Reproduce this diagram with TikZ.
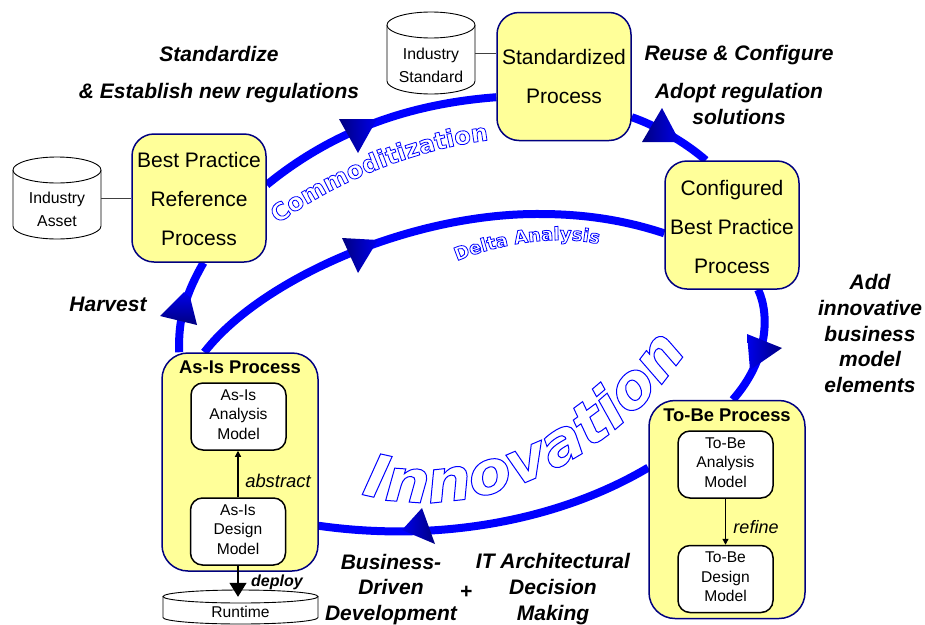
\documentclass[tikz,border=0pt]{standalone}
\usepackage{fontspec}
\setmainfont{Liberation Sans}
\newfontfamily\innofont[FakeStretch=1.05]{DejaVu Sans Bold Oblique}
\newfontfamily\commfont{DejaVu Sans Bold}
\newfontfamily\deltafont{DejaVu Sans Bold}
\usetikzlibrary{backgrounds,arrows.meta,decorations.text,calc}
\definecolor{paleyellow}{HTML}{FFFF99}
\definecolor{navyline}{HTML}{000080}
\definecolor{loopblue}{HTML}{0000FF}
\newcommand\olchar[1]{{\color{white}\special{pdf:code 2 Tr 1 w 0 0 1 RG}#1\special{pdf:code 0 Tr}}}
\newcommand\olcharthin[1]{{\color{white}\special{pdf:code 2 Tr 0.8 w 0 0 1 RG}#1\special{pdf:code 0 Tr}}}
\newcommand\cylshape[5]{%
  \pgfmathsetmacro\cxm{(#1+#3)/2}\pgfmathsetmacro\rxm{(#3-#1)/2}%
  \pgfmathsetmacro\ka{#1+0.45*\rxm}\pgfmathsetmacro\kb{#3-0.45*\rxm}%
  \pgfmathsetmacro\ytm{#2+#5}\pgfmathsetmacro\ybm{#4-#5}\pgfmathsetmacro\yk{#4-0.45*#5}%
  \draw[cylline,fill=white] (#1,\ytm) -- (#1,\ybm) .. controls (#1,\yk) and (\ka,#4) .. (\cxm,#4)
     .. controls (\kb,#4) and (#3,\yk) .. (#3,\ybm) -- (#3,\ytm);
  \draw[cylline,fill=white] (\cxm,\ytm) ellipse [x radius=\rxm pt, y radius=#5 pt];
}
\tikzset{
  procbox/.style={draw=navyline,fill=paleyellow,line width=1.5pt,rounded corners=22pt,inner sep=0pt,
    minimum width=134pt,minimum height=128pt,align=center,font=\fontsize{21}{38.6}\selectfont},
  groupbox/.style={draw=navyline,fill=paleyellow,line width=1.5pt,rounded corners=26pt,inner sep=0pt,
    minimum width=156pt,minimum height=218pt},
  modelbox/.style={draw=black,fill=white,line width=1.5pt,rounded corners=12pt,inner sep=0pt,
    minimum width=95pt,minimum height=67pt,align=center,font=\fontsize{15.6}{19.5}\selectfont},
  grouptitle/.style={inner sep=0pt,font=\bfseries\fontsize{18.4}{20}\selectfont},
  cyllabel/.style={inner sep=0pt,align=center,font=\fontsize{15.8}{23}\selectfont},
  cylline/.style={draw=black,line width=0.9pt},
  actlabel/.style={inner sep=0pt,align=center,font=\bfseries\itshape\fontsize{21}{25.7}\selectfont},
  verblabel/.style={inner sep=0pt,font=\itshape\fontsize{18.4}{20}\selectfont},
  loopline/.style={draw=loopblue,line width=8pt},
  thinarrow/.style={draw=black,line width=1.2pt,-{Triangle[width=6pt,length=6pt]}},
}
\begin{document}
\begin{tikzpicture}[x=1pt,y=-1pt]
\useasboundingbox (0,0) rectangle (925,624);
% cylinders
\cylshape{13}{157}{101}{239}{13}
\cylshape{387}{12}{475}{94}{13}
\cylshape{163}{590}{318}{624}{6.5}
\node[cyllabel,minimum width=88pt,minimum height=61pt] (asset) at (57,209.5) {Industry\\Asset};
\node[cyllabel,minimum width=88pt,minimum height=61pt] (stand) at (431,65.5) {Industry\\Standard};
\node[cyllabel,minimum width=155pt,minimum height=29pt,font=\fontsize{15.6}{18}\selectfont] (runtime) at (240.5,611.5) {Runtime};
% process boxes
\node[procbox] (best) at (199,198) {\mbox{}\\[-21.6pt]Best Practice\\Reference\\Process};
\node[procbox] (std) at (564,76.5) {Standardized\\Process};
\node[procbox] (conf) at (732,225) {\mbox{}\\[-19.6pt]Configured\\Best Practice\\Process};
\node[groupbox] (asis) at (240,462) {};
\node[groupbox] (tobe) at (727,509.5) {};
\node[grouptitle] (asistitle) at (240,367) {As-Is Process};
\node[grouptitle] (tobetitle) at (727,415) {To-Be Process};
\node[modelbox] (asanalysis) at (238.5,416.5) {As-Is\\Analysis\\Model\\[-15.5pt]\mbox{}};
\node[modelbox] (asdesign) at (238,531.5) {As-Is\\Design\\Model\\[-15.5pt]\mbox{}};
\node[modelbox] (toanalysis) at (725.5,464.5) {To-Be\\Analysis\\Model\\[-15.5pt]\mbox{}};
\node[modelbox] (todesign) at (725.5,579) {To-Be\\Design\\Model\\[-15.5pt]\mbox{}};
% blue loops behind the boxes
\begin{scope}[on background layer]
\draw[loopline] (best.11) .. controls (340,125) and (420,103) .. (std.197);
\draw[loopline] (std.-31) .. controls (655,125) and (685,142) .. (conf.112);
\draw[loopline] (conf.-68) .. controls (770,315) and (768,360) .. (tobe.87);
\draw[loopline] (tobe.152.6) .. controls (560,520) and (440,543) .. (asis.-39.8);
\draw[loopline] (asis.119) .. controls (178,320) and (185,295) .. (best.-86);
\draw[loopline] (asis.108) .. controls (260,280) and (410,213) .. (540,214) .. controls (590,214) and (630,222) .. (conf.187);
\end{scope}
% arrowheads of the loops
\shade[left color=navyline,right color=loopblue!85!navyline] (339,119) -- (377,119) -- (358,153) -- cycle;
\shade[left color=navyline,right color=loopblue!85!navyline] (342,238) -- (378,240) -- (358,273) -- cycle;
\shade[top color=loopblue!85!navyline,bottom color=navyline] (184,292) -- (190,297) -- (197,325) -- (160,316) -- cycle;
\shade[left color=navyline,right color=loopblue!85!navyline] (662,108) -- (680,142) -- (642,142) -- cycle;
\shade[left color=loopblue!85!navyline,right color=navyline] (747,334) -- (782,348) -- (750,370) -- cycle;
\shade[left color=loopblue!85!navyline,right color=navyline] (422,508) -- (435,544) -- (402,530) -- cycle;
% connectors
\draw[draw=black!75,line width=1pt] (asset.east |- best.west) -- (best.west);
\draw[draw=black!75,line width=1pt] (stand.east |- std.161) -- (std.161);
\draw[thinarrow] (asdesign.north) -- (asdesign.north |- asanalysis.south);
\draw[thinarrow] (toanalysis.south) -- (toanalysis.south |- todesign.north);
\draw[draw=black,line width=1.2pt,-{Triangle[width=17pt,length=14pt]}] (asdesign.south) -- (asdesign.south |- runtime.north);
% labels
\node[actlabel] (l1) at (219,54) {Standardize};
\node[actlabel] (l2) at (219,93) {\& Establish new regulations};
\node[actlabel] (l3) at (739,55) {Reuse \& Configure};
\node[actlabel] (l4) at (739,104) {Adopt regulation\\solutions};
\node[actlabel] (l5) at (108,304) {Harvest};
\node[actlabel] (l6) at (870,333.5) {Add\\innovative\\business\\model\\elements};
\node[actlabel] (l7) at (391,589.5) {Business-\\Driven\\Development};
\node[actlabel] (l8) at (466,592) {+};
\node[actlabel] (l9) at (553,589) {IT Architectural\\Decision\\Making};
\node[verblabel] (l10) at (278,481) {abstract};
\node[verblabel,font=\itshape\fontsize{18}{20}\selectfont] (l11) at (756,527) {refine};
\node[verblabel,font=\bfseries\itshape\fontsize{16}{18}\selectfont] (l12) at (277,582) {deploy};
% outlined curved words
\path[decorate,decoration={text effects along path,text={Innovation},
  text effects/.cd,characters={text along path,font=\innofont\fontsize{60}{60}\selectfont},character command=\olchar}]
  (361,494) .. controls (470,525) and (610,470) .. (692,343);
\path[decorate,decoration={text effects along path,text={Commoditization},
  text effects/.cd,characters={text along path,font=\commfont\fontsize{24}{24}\selectfont},character command=\olcharthin}]
  (278,224) .. controls (330,185) and (410,150) .. (490,140);
\path[decorate,decoration={text effects along path,text={Delta Analysis},
  text effects/.cd,characters={text along path,font=\deltafont\fontsize{18}{18}\selectfont},character command=\olcharthin}]
  (457,261) .. controls (495,245) and (560,232) .. (605,246);
\end{tikzpicture}
\end{document}
